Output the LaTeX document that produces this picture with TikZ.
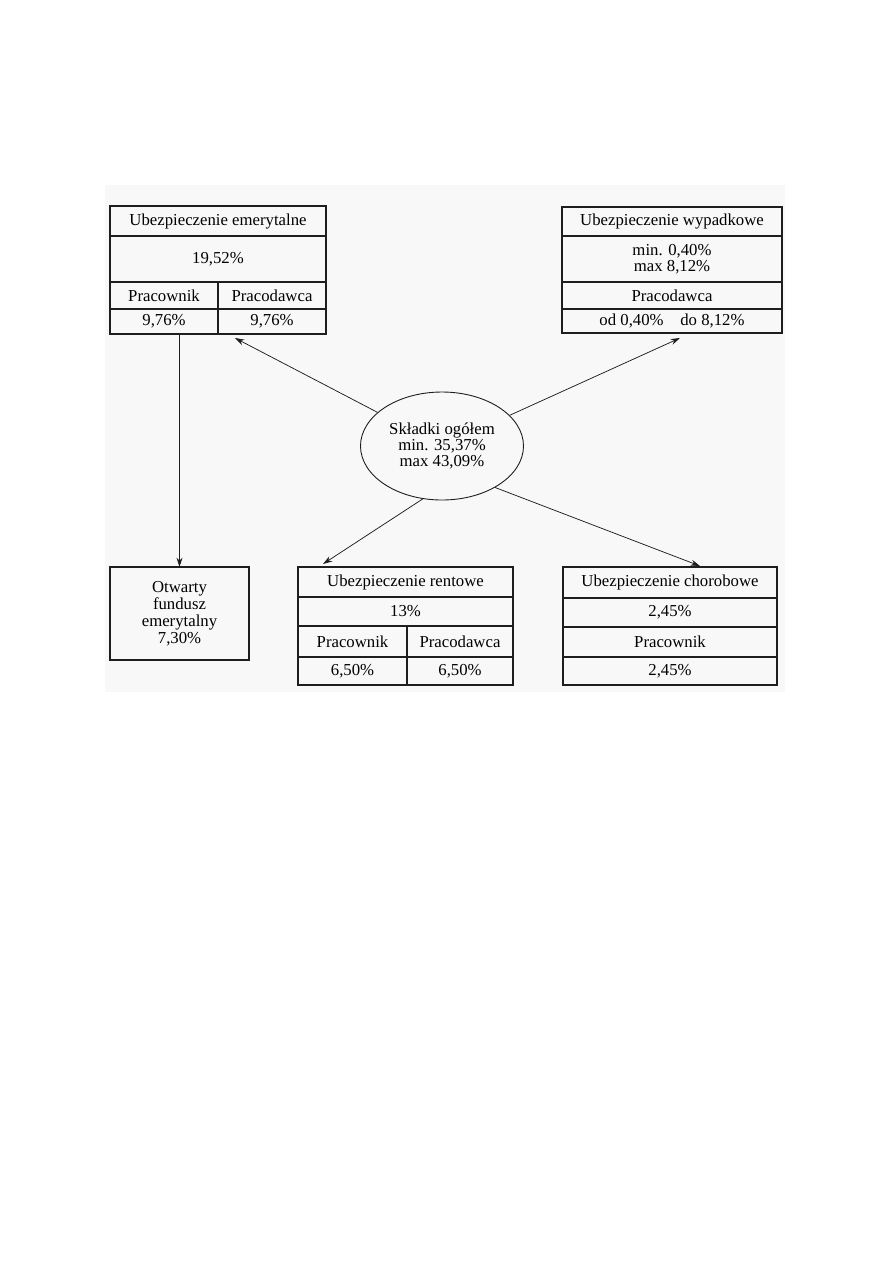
\documentclass[tikz,border=0pt]{standalone}
\usepackage{fontspec}
\setmainfont{Liberation Serif}
\usetikzlibrary{arrows.meta,positioning,shapes.geometric,calc}
\definecolor{scanbg}{RGB}{248,248,248}
\definecolor{inkgray}{RGB}{30,30,30}
\newlength{\unitpx}
\setlength{\unitpx}{0.23516mm}
\tikzset{
  cell/.style={draw=inkgray, line width=0.7pt, inner sep=0pt, outer sep=0pt,
               align=center, font=\fontsize{11.2}{10.7}\selectfont},
  ovalbox/.style={ellipse, draw=inkgray, line width=0.6pt, inner sep=0pt, align=center,
                  minimum width=163\unitpx, minimum height=108\unitpx,
                  font=\fontsize{11.2}{10.8}\selectfont},
  linkarr/.style={-{Stealth[length=2.2mm, width=1.4mm]}, inkgray, line width=0.5pt},
}

\begin{document}
\begin{tikzpicture}[x=0.23516mm, y=-0.23516mm]
  \useasboundingbox (0,0) rectangle (893,1263);
  \fill[scanbg] (105,185) rectangle (785,692);

  \node[cell, anchor=north west, minimum width=216\unitpx, minimum height=30\unitpx] (emTitle) at (110,206)
       {Ubezpieczenie emerytalne};
  \node[cell, below=0pt of emTitle, minimum width=216\unitpx, minimum height=46\unitpx] (emTotal) {19,52\%};
  \node[cell, below right=0pt and 0pt of emTotal.south west, minimum width=108\unitpx, minimum height=27\unitpx] (emPrac) {Pracownik};
  \node[cell, right=0pt of emPrac, minimum width=108\unitpx, minimum height=27\unitpx] (emPracd) {Pracodawca};
  \node[cell, below=0pt of emPrac, minimum width=108\unitpx, minimum height=25\unitpx] (emPracV) {9,76\%};
  \node[cell, below=0pt of emPracd, minimum width=108\unitpx, minimum height=25\unitpx] (emPracdV) {9,76\%};

  \node[cell, anchor=north west, minimum width=220\unitpx, minimum height=29\unitpx] (wpTitle) at (562,207)
       {Ubezpieczenie wypadkowe};
  \node[cell, below=0pt of wpTitle, minimum width=220\unitpx, minimum height=46\unitpx] (wpRange) {min. 0,40\%\\max 8,12\%};
  \node[cell, below=0pt of wpRange, minimum width=220\unitpx, minimum height=27\unitpx] (wpWho) {Pracodawca};
  \node[cell, below=0pt of wpWho, minimum width=220\unitpx, minimum height=24\unitpx] (wpVal) {od 0,40\%\hspace{1em}do 8,12\%};

  \node[ovalbox] (sk) at (442,446) {Składki ogółem\\min. 35,37\%\\max 43,09\%};

  \node[cell, anchor=north west, minimum width=139\unitpx, minimum height=93\unitpx,
        font=\fontsize{11.2}{11.4}\selectfont] (ofe) at (110,567)
       {Otwarty\\fundusz\\emerytalny\\7,30\%};

  \node[cell, anchor=north west, minimum width=215\unitpx, minimum height=30\unitpx] (reTitle) at (298,567)
       {Ubezpieczenie rentowe};
  \node[cell, below=0pt of reTitle, minimum width=215\unitpx, minimum height=29\unitpx] (reTotal) {13\%};
  \node[cell, below right=0pt and 0pt of reTotal.south west, minimum width=109\unitpx, minimum height=31\unitpx] (rePrac) {Pracownik};
  \node[cell, right=0pt of rePrac, minimum width=106\unitpx, minimum height=31\unitpx] (rePracd) {Pracodawca};
  \node[cell, below=0pt of rePrac, minimum width=109\unitpx, minimum height=28\unitpx] (rePracV) {6,50\%};
  \node[cell, below=0pt of rePracd, minimum width=106\unitpx, minimum height=28\unitpx] (rePracdV) {6,50\%};

  \node[cell, anchor=north west, minimum width=214\unitpx, minimum height=31\unitpx] (chTitle) at (563,567)
       {Ubezpieczenie chorobowe};
  \node[cell, below=0pt of chTitle, minimum width=214\unitpx, minimum height=29\unitpx] (chTotal) {2,45\%};
  \node[cell, below=0pt of chTotal, minimum width=214\unitpx, minimum height=30\unitpx] (chWho) {Pracownik};
  \node[cell, below=0pt of chWho, minimum width=214\unitpx, minimum height=28\unitpx] (chVal) {2,45\%};

  \draw[linkarr] (ofe.north |- emPracV.south) -- (ofe.north);
  \draw[linkarr] (sk) -- ([shift={(17,4)}]emPracdV.south west);
  \draw[linkarr] (sk) -- ([shift={(118,5)}]wpVal.south west);
  \draw[linkarr] (sk.250) -- ([shift={(25,-3)}]reTitle.north west);
  \draw[linkarr] (sk.322) -- ([shift={(137,-1)}]chTitle.north west);
\end{tikzpicture}
\end{document}
